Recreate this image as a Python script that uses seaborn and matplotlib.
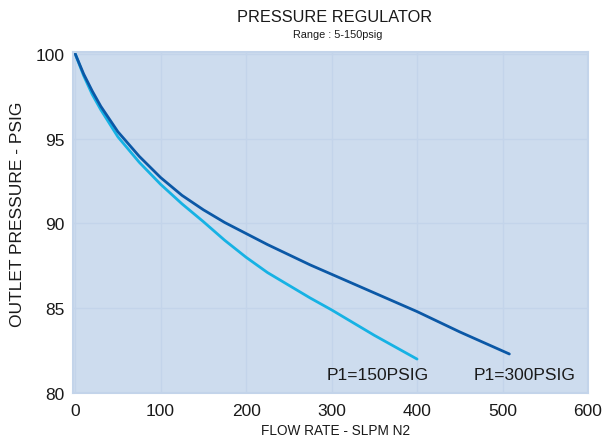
import matplotlib
matplotlib.use("Agg")
import matplotlib.pyplot as plt
import seaborn as sns
import pandas as pd

# Data
flow_300 = [0, 10, 20, 30, 50, 75, 100, 125, 150, 175, 200, 225, 250, 275, 300, 350, 400, 450, 508]
press_300 = [100.0, 98.8, 97.8, 96.9, 95.4, 93.95, 92.7, 91.65, 90.8, 90.05, 89.4, 88.75, 88.15, 87.55, 87.0, 85.9, 84.8, 83.6, 82.3]
flow_150 = [0, 10, 20, 30, 50, 75, 100, 125, 150, 175, 200, 225, 250, 275, 300, 350, 400]
press_150 = [100.0, 98.7, 97.6, 96.7, 95.1, 93.6, 92.3, 91.15, 90.1, 89.0, 88.0, 87.1, 86.35, 85.6, 84.9, 83.4, 82.0]
series_labels = ["P1=150PSIG", "P1=300PSIG"]
x_ticks = [0, 100, 200, 300, 400, 500, 600]
y_ticks = [80, 85, 90, 95, 100]

df = pd.concat([
    pd.DataFrame({"flow": flow_150, "pressure": press_150, "series": series_labels[0]}),
    pd.DataFrame({"flow": flow_300, "pressure": press_300, "series": series_labels[1]}),
])

sns.set_style("whitegrid", {"axes.facecolor": "#cddcee", "grid.color": "#c3d4ea",
                            "axes.edgecolor": "#c3d4ea"})
plt.rcParams['font.family'] = ['Liberation Sans', 'DejaVu Sans']

fig = plt.figure(figsize=(6.1, 4.39), dpi=100)
ax = fig.add_axes([73 / 610, 1 - 394 / 439, (588 - 73) / 610, (394 - 53) / 439])

palette = {series_labels[0]: "#16b2e4", series_labels[1]: "#0b58a6"}
sns.lineplot(data=df, x="flow", y="pressure", hue="series", palette=palette,
             linewidth=2.0, legend=False, ax=ax, sort=True)

ax.set_xlim(-2.5, 600)
ax.set_ylim(80, 100.1)
ax.set_xticks(x_ticks)
ax.set_yticks(y_ticks)
ax.tick_params(axis="both", labelsize=12.5, length=0, colors="#1a1a1a")
ax.tick_params(axis="x", pad=7)
ax.tick_params(axis="y", pad=6)
for s in ax.spines.values():
    s.set_color("#c3d4ea")
    s.set_linewidth(1.5)
ax.grid(True, color="#c3d4ea", linewidth=1.0)

ax.set_xlabel("FLOW RATE - SLPM N2", fontsize=9.8, color="#1a1a1a")
ax.xaxis.set_label_coords(0.509, -0.088)
ax.set_ylabel("OUTLET PRESSURE - PSIG", fontsize=12.5, color="#1a1a1a")
ax.yaxis.set_label_coords(-0.093, 0.528)

fig.text(335 / 610, 1 - 18 / 439, "PRESSURE REGULATOR", ha="center", va="center",
         fontsize=11.8, color="#1a1a1a")
fig.text(338 / 610, 1 - 35 / 439, "Range : 5-150psig", ha="center", va="center",
         fontsize=7.8, color="#1a1a1a")

ax.text(354, 81.1, series_labels[0], ha="center", va="center", fontsize=12.5, color="#1a1a1a")
ax.text(526, 81.1, series_labels[1], ha="center", va="center", fontsize=12.5, color="#1a1a1a")

fig.savefig("out.png", dpi=100)
